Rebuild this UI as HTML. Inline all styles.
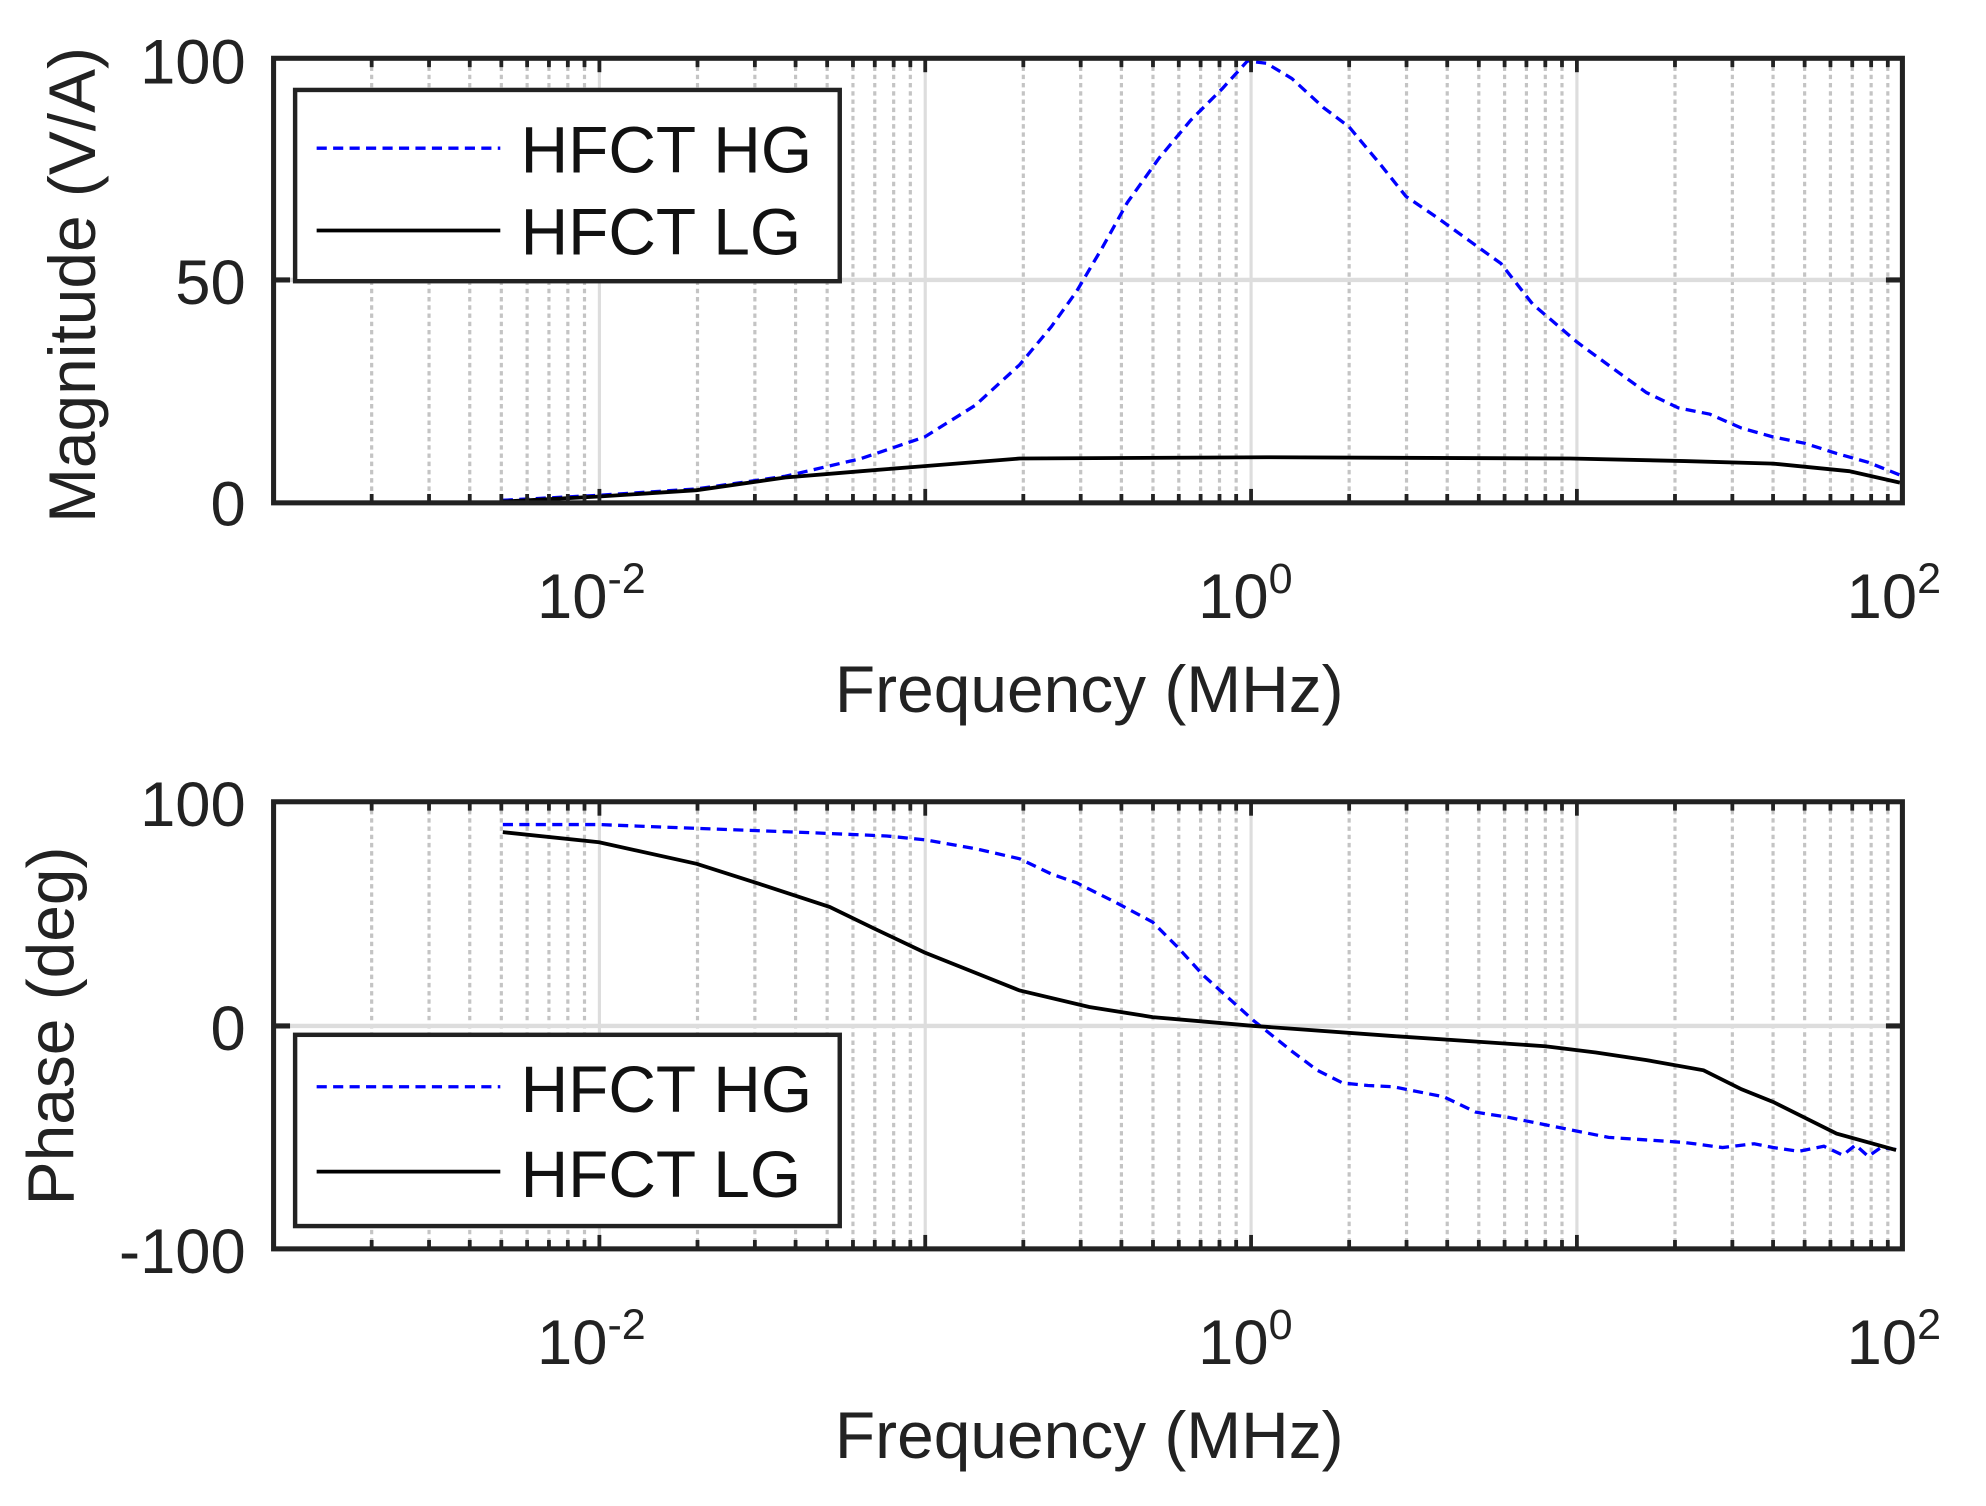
<!DOCTYPE html>
<html><head><meta charset="utf-8"><style>html,body{margin:0;padding:0;background:#fff}svg{display:block}</style></head>
<body>
<svg id="s" width="1986" height="1506" viewBox="0 0 1568 1189" xmlns="http://www.w3.org/2000/svg" font-family="Liberation Sans, sans-serif" fill="#222">
<rect width="1568" height="1189" fill="#fff"/>
<g id="grid"></g>
<polyline fill="none" stroke="#0000ff" stroke-width="2.6" stroke-dasharray="8,5" points="397,395 473,391 550,386 620,376 680,362 730,345 770,320 805,288 830,258 850,230 870,196 890,160 915,125 940,95 965,70 985,48 1000,50 1020,62 1045,85 1065,100 1090,130 1110,155 1135,172 1160,190 1185,208 1210,240 1245,270 1275,292 1300,310 1325,322 1350,327 1375,338 1400,345 1425,350 1450,358 1475,365 1500,375"/>
<polyline fill="none" stroke="#000" stroke-width="3" points="397,396 473,392 550,387 620,377 680,372 730,368 805,362 1000,361 1240,362 1330,364 1400,366 1460,372 1500,381"/>
<polyline fill="none" stroke="#0000ff" stroke-width="2.6" stroke-dasharray="8,5" points="397,651 473,651 550,654 630,657 700,660 730,663 770,670 805,678 830,690 850,697 880,712 910,728 930,748 950,770 970,788 990,806 1020,830 1040,845 1060,855 1080,857 1100,858 1140,866 1165,878 1190,882 1230,890 1270,898 1300,900 1330,902 1360,906 1385,903 1400,906 1420,909 1440,905 1455,912 1465,904 1475,913 1485,906 1500,908"/>
<polyline fill="none" stroke="#000" stroke-width="3" points="397,657 473,665 550,682 600,698 655,716 690,733 730,752 770,768 805,782 860,795 910,803 990,810 1100,818 1160,822 1220,826 1260,831 1300,837 1345,845 1375,860 1400,870 1430,885 1450,895 1497,908"/>
<g id="frames"></g>
<g>
<rect x="233" y="71" width="430" height="151" fill="#fff" stroke="#222" stroke-width="3.5"/>
<line x1="250" y1="117" x2="395" y2="117" stroke="#0000ff" stroke-width="2.6" stroke-dasharray="8,5"/>
<line x1="250" y1="182" x2="395" y2="182" stroke="#000" stroke-width="3"/>
<text x="411" y="136" font-size="52" fill="#111">HFCT HG</text>
<text x="411" y="201" font-size="52" fill="#111">HFCT LG</text>
</g>
<g>
<rect x="233" y="817" width="430" height="151" fill="#fff" stroke="#222" stroke-width="3.5"/>
<line x1="250" y1="858" x2="395" y2="858" stroke="#0000ff" stroke-width="2.6" stroke-dasharray="8,5"/>
<line x1="250" y1="925" x2="395" y2="925" stroke="#000" stroke-width="3"/>
<text x="411" y="878" font-size="52" fill="#111">HFCT HG</text>
<text x="411" y="945" font-size="52" fill="#111">HFCT LG</text>
</g>
<g font-size="50" text-anchor="end">
<text x="194" y="66">100</text><text x="194" y="240">50</text><text x="194" y="415">0</text>
<text x="194" y="652">100</text><text x="194" y="829">0</text><text x="194" y="1005">-100</text>
</g>
<g font-size="50">
<text x="424" y="488">10<tspan font-size="34" dy="-20">-2</tspan></text>
<text x="946" y="488">10<tspan font-size="34" dy="-20">0</tspan></text>
<text x="1458" y="488">10<tspan font-size="34" dy="-20">2</tspan></text>
<text x="424" y="1077">10<tspan font-size="34" dy="-20">-2</tspan></text>
<text x="946" y="1077">10<tspan font-size="34" dy="-20">0</tspan></text>
<text x="1458" y="1077">10<tspan font-size="34" dy="-20">2</tspan></text>
</g>
<g font-size="52" text-anchor="middle">
<text x="860" y="562">Frequency (MHz)</text>
<text x="860" y="1151">Frequency (MHz)</text>
<text transform="translate(75,225) rotate(-90)">Magnitude (V/A)</text>
<text transform="translate(58,810) rotate(-90)">Phase (deg)</text>
</g>
</svg>
<script>
var ns="http://www.w3.org/2000/svg",g=document.getElementById("grid"),f=document.getElementById("frames");
function L(p,x1,y1,x2,y2,st){var l=document.createElementNS(ns,"line");l.setAttribute("x1",x1);l.setAttribute("y1",y1);l.setAttribute("x2",x2);l.setAttribute("y2",y2);for(var k in st)l.setAttribute(k,st[k]);p.appendChild(l);}
var panels=[[46,397,[221]],[633,986,[810]]];
panels.forEach(function(P){var t=P[0],b=P[1];
 for(var d=-3;d<2;d++){for(var k=2;k<=9;k++){var x=216+(d+3+Math.log10(k))*257.25;
  L(g,x,t,x,b,{stroke:"#c4c4c4","stroke-width":2.5,"stroke-dasharray":"3.5,3"});
  L(f,x,t,x,t+7,{stroke:"#222","stroke-width":3});L(f,x,b,x,b-7,{stroke:"#222","stroke-width":3});}}
 for(var d=1;d<5;d++){var x=216+d*257.25;L(g,x,t,x,b,{stroke:"#ddd","stroke-width":2.5});
  L(f,x,t,x,t+11,{stroke:"#222","stroke-width":3});L(f,x,b,x,b-11,{stroke:"#222","stroke-width":3});}
 P[2].forEach(function(y){L(g,216,y,1502,y,{stroke:"#ddd","stroke-width":3.5});
  L(f,216,y,229,y,{stroke:"#222","stroke-width":4});L(f,1489,y,1502,y,{stroke:"#222","stroke-width":4});});
 var r=document.createElementNS(ns,"rect");r.setAttribute("x",216);r.setAttribute("y",t);r.setAttribute("width",1286);r.setAttribute("height",b-t);r.setAttribute("fill","none");r.setAttribute("stroke","#222");r.setAttribute("stroke-width",4);f.appendChild(r);
});
</script>
</body></html>
